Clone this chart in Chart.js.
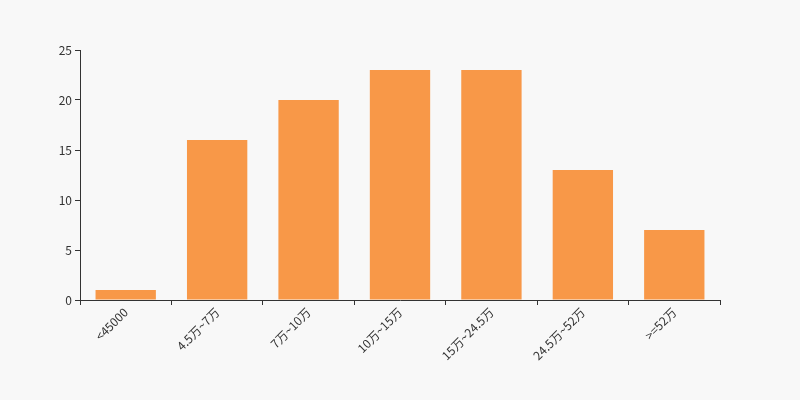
<!DOCTYPE html>
<html>
<head>
<meta charset="utf-8">
<script src="https://cdn.jsdelivr.net/npm/chart.js@4/dist/chart.umd.min.js"></script>
<style>
body{margin:0;background:#f8f8f8;}
#wrap{width:800px;height:400px;}
</style>
</head>
<body>
<div id="wrap"><canvas id="incomeChart"></canvas></div>
<script>
// income bands and counts
var bands = ['<45000','4.5万~7万','7万~10万','10万~15万','15万~24.5万','24.5万~52万','>=52万'];
var counts = [1,16,20,23,23,13,7];
var yTicks = [0,5,10,15,20,25];

var fontFam = '"Microsoft YaHei","Noto Sans CJK SC",sans-serif';

new Chart(document.getElementById('incomeChart'), {
	type: 'bar',
	data: {
		labels: bands,
		datasets: [{
			data: counts,
			backgroundColor: '#f89848',
			barPercentage: 0.66,
			categoryPercentage: 1
		}]
	},
	options: {
		responsive: true,
		maintainAspectRatio: false,
		animation: false,
		layout: {padding: {top: 50, right: 80, left: 0, bottom: 0}},
		plugins: {legend: {display: false}, tooltip: {enabled: false}},
		scales: {
			x: {
				afterFit: s => { s.height = 100; },
				border: {color: '#333', width: 1},
				grid: {display: true, drawOnChartArea: false, offset: true, color: '#333', tickLength: 5},
				ticks: {color: '#333', font: {size: 12, family: fontFam}, minRotation: 45, maxRotation: 45, autoSkip: false, padding: 0}
			},
			y: {
				min: 0, max: 25,
				afterFit: s => { s.width = 80; },
				afterBuildTicks: s => { s.ticks = yTicks.map(v => ({value: v})); },
				border: {color: '#333', width: 1},
				grid: {display: true, drawOnChartArea: false, color: '#333', tickLength: 5},
				ticks: {color: '#333', font: {size: 12, family: fontFam}, padding: 3}
			}
		}
	}
});
</script>
</body>
</html>
